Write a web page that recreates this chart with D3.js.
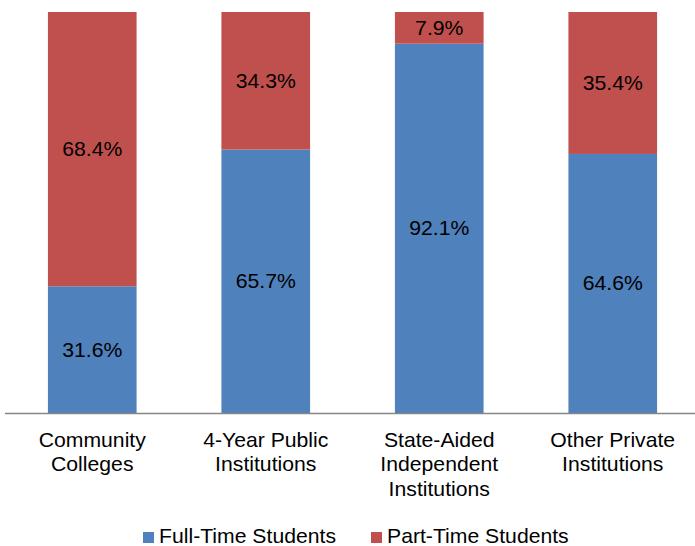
<!DOCTYPE html>
<html>
<head>
<meta charset="utf-8">
<script src="https://cdn.jsdelivr.net/npm/d3@7"></script>
<style>
body{margin:0;background:#fff;}
svg{display:block;font-family:"Liberation Sans",Arial,sans-serif;}
</style>
</head>
<body>
<script>
let categories=[["Community","Colleges"],["4-Year Public","Institutions"],["State-Aided","Independent","Institutions"],["Other Private","Institutions"]];
let fullTime=[31.6,65.7,92.1,64.6];
let partTime=[68.4,34.3,7.9,35.4];
let seriesNames=["Full-Time Students","Part-Time Students"];
let pal=["#4F81BD","#C0504D"];

let w=695,h=546,sx=1.06;
let svg=d3.select("body").append("svg").attr("width",w).attr("height",h);

let x=d3.scaleBand().domain(d3.range(categories.length)).range([5.5,699.5]).paddingInner(0.489).paddingOuter(0.2445);
let y=d3.scaleLinear().domain([0,100]).range([413,12]);

let rows=categories.map((c,i)=>({i:i,full:fullTime[i],part:partTime[i]}));
let stack=d3.stack().keys(["full","part"])(rows);

let g=svg.selectAll("g.ser").data(stack).enter().append("g").attr("fill",(d,k)=>pal[k]);
g.selectAll("rect").data(d=>d).enter().append("rect")
  .attr("x",d=>x(d.data.i)).attr("width",x.bandwidth())
  .attr("y",d=>y(d[1])).attr("height",d=>y(d[0])-y(d[1]));

g.selectAll("text").data(d=>d).enter().append("text")
  .attr("transform",d=>`translate(${x(d.data.i)+x.bandwidth()/2},${(y(d[0])+y(d[1]))/2}) scale(${sx},1)`)
  .attr("dy","0.35em").attr("text-anchor","middle")
  .style("font-size","20px").attr("fill","#000")
  .text(d=>(d[1]-d[0]).toFixed(1)+"%");

// axis line
svg.append("line").attr("x1",5).attr("x2",w).attr("y1",y(0)+0.5).attr("y2",y(0)+0.5)
  .attr("stroke","#868686").attr("stroke-width",1.5);

// category labels
categories.forEach((c,i)=>{
  let t=svg.append("text").attr("text-anchor","middle").style("font-size","20px").attr("fill","#000")
    .attr("transform",`translate(${x(i)+x.bandwidth()/2},0) scale(${sx},1)`);
  c.forEach((line,j)=>{
    t.append("tspan").attr("x",0).attr("y",446.7+j*24.6).text(line);
  });
});

// legend
let legX=[143,371];
seriesNames.forEach((s,k)=>{
  svg.append("rect").attr("x",legX[k]).attr("y",532).attr("width",11).attr("height",11).attr("fill",pal[k]);
  svg.append("text").attr("transform",`translate(${legX[k]+16},543) scale(${sx},1)`)
    .style("font-size","20px").attr("fill","#000").text(s);
});
</script>
</body>
</html>
